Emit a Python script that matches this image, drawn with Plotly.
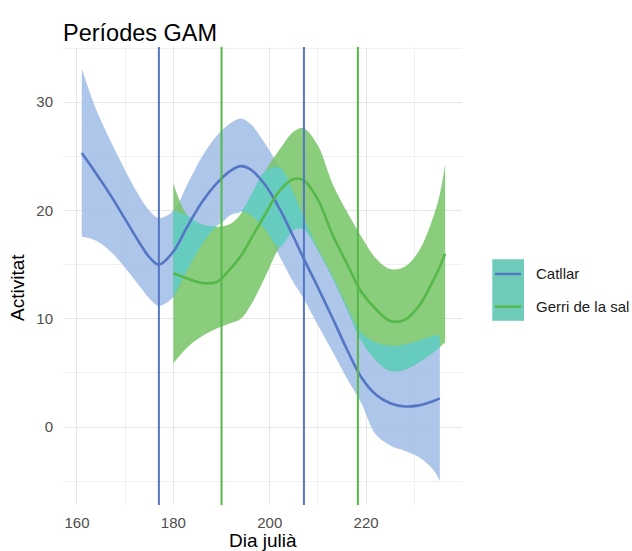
import numpy as np
import plotly.graph_objects as go

# ---------------- data ----------------
series_names = ["Catllar", "Gerri de la sal"]

days_cat = [161, 164, 167, 170, 173, 175, 177, 180, 183, 186, 189, 192, 194, 196, 199,
            202, 205, 207, 210, 213, 216, 219, 222, 225, 228, 231, 234, 235.3]
fit_cat = [25.3, 23.4, 21.4, 19.2, 17.0, 15.7, 15.0, 16.2, 18.6, 20.8, 22.5, 23.7, 24.1, 23.8, 22.4,
           20.2, 17.5, 15.6, 12.9, 10.1, 7.2, 4.6, 3.0, 2.2, 1.9, 2.0, 2.4, 2.65]
upper_cat = [33.1, 29.3, 26.4, 23.7, 21.3, 20.0, 19.3, 20.0, 22.5, 25.0, 26.9, 28.1, 28.5, 28.0, 26.2,
             24.0, 21.6, 19.4, 16.5, 14.0, 11.2, 8.7, 7.8, 7.5, 7.6, 8.0, 8.4, 8.5]
lower_cat = [17.6, 17.2, 16.2, 14.7, 13.0, 11.9, 11.2, 12.0, 14.6, 16.9, 18.6, 19.6, 19.9, 19.6, 18.3,
             15.8, 13.3, 11.9, 9.4, 7.0, 4.5, 2.2, -0.7, -1.7, -2.2, -2.8, -4.0, -5.0]

days_ger = [180, 183, 186, 189, 192, 194, 196, 199, 202, 205, 207, 210, 213, 216, 219,
            222, 225, 228, 231, 234, 235.3, 236.4]
fit_ger = [14.2, 13.7, 13.3, 13.4, 14.7, 15.8, 17.3, 19.6, 21.8, 22.9, 22.8, 21.0, 17.8, 15.1, 12.5,
           10.9, 9.8, 9.9, 11.2, 13.6, 14.8, 16.0]
upper_ger = [22.5, 19.5, 18.7, 18.5, 18.8, 19.7, 21.3, 23.6, 25.6, 27.3, 27.6, 26.0, 22.5, 19.9, 17.6,
             15.6, 14.6, 14.8, 16.3, 19.5, 21.5, 24.3]
lower_ger = [5.9, 7.4, 8.4, 9.1, 9.6, 10.0, 11.2, 13.8, 16.6, 18.2, 18.3, 16.3, 13.8, 10.9, 8.0,
             6.2, 5.2, 5.3, 6.0, 6.9, 7.4, 7.8]

# period limits (vertical lines)
vlines_cat = [177, 207.1]
vlines_ger = [190, 218.3]

x_ticks = [160, 180, 200, 220]
y_ticks = [0, 10, 20, 30]

# ---------------- styles ----------------
BLUE_LINE = "#5576c4"
GREEN_LINE = "#56b849"
BLUE_FILL = "rgba(160,189,231,0.86)"
GREEN_FILL = "rgba(118,197,104,0.86)"
TEAL_FILL = "rgba(98,205,200,0.88)"
FONT = "Liberation Sans, Arial, sans-serif"

W, H = 632, 551

# overlap of the two bands on shared days
cat_idx = {d: i for i, d in enumerate(days_cat)}
ov_x, ov_lo, ov_hi = [], [], []
for j, d in enumerate(days_ger):
    if d in cat_idx:
        i = cat_idx[d]
        lo = max(lower_cat[i], lower_ger[j])
        hi = min(upper_cat[i], upper_ger[j])
        ov_x.append(d)
        ov_lo.append(lo)
        ov_hi.append(max(lo, hi))

fig = go.Figure()

def band(x, lo, hi, color):
    fig.add_trace(go.Scatter(x=x, y=lo, mode="lines", line=dict(width=0, shape="spline"),
                             hoverinfo="skip", showlegend=False))
    fig.add_trace(go.Scatter(x=x, y=hi, mode="lines", line=dict(width=0, shape="spline"),
                             fill="tonexty", fillcolor=color, hoverinfo="skip", showlegend=False))

band(days_cat, lower_cat, upper_cat, BLUE_FILL)
band(days_ger, lower_ger, upper_ger, GREEN_FILL)
band(ov_x, ov_lo, ov_hi, TEAL_FILL)

fig.add_trace(go.Scatter(x=days_cat, y=fit_cat, mode="lines", name=series_names[0],
                         line=dict(color=BLUE_LINE, width=2.6, shape="spline"), showlegend=False))
fig.add_trace(go.Scatter(x=days_ger, y=fit_ger, mode="lines", name=series_names[1],
                         line=dict(color=GREEN_LINE, width=2.6, shape="spline"), showlegend=False))

shapes = []
for v in vlines_cat:
    shapes.append(dict(type="line", xref="x", yref="paper", x0=v, x1=v, y0=0, y1=1,
                       line=dict(color=BLUE_LINE, width=2)))
for v in vlines_ger:
    shapes.append(dict(type="line", xref="x", yref="paper", x0=v, x1=v, y0=0, y1=1,
                       line=dict(color=GREEN_LINE, width=2)))

# manual legend (teal key box with the two line keys)
shapes.append(dict(type="rect", xref="paper", yref="paper", x0=1.0759, x1=1.1554,
                   y0=0.4024, y1=0.5365, fillcolor="#6ecbb9", line=dict(width=0), layer="above"))
leg_y = [0.5044, 0.433]
leg_col = [BLUE_LINE, GREEN_LINE]
annotations = []
for name, yy, c in zip(series_names, leg_y, leg_col):
    shapes.append(dict(type="line", xref="paper", yref="paper", x0=1.0827, x1=1.1479,
                       y0=yy, y1=yy, line=dict(color=c, width=2.4)))
    annotations.append(dict(text=name, xref="paper", yref="paper", x=1.1805, y=yy,
                            xanchor="left", yanchor="middle", showarrow=False,
                            font=dict(family=FONT, size=15, color="#1a1a1a")))

annotations.append(dict(text="Activitat", xref="paper", yref="paper", x=-0.1128, y=0.476,
                        textangle=-90, showarrow=False, xanchor="center", yanchor="middle",
                        font=dict(family=FONT, size=19, color="black")))
annotations.append(dict(text="Dia julià", xref="paper", yref="paper", x=0.501, y=-0.0786,
                        showarrow=False, xanchor="center", yanchor="middle",
                        font=dict(family=FONT, size=19, color="black")))

fig.update_layout(
    width=W, height=H,
    margin=dict(l=63, r=170, t=47, b=46),
    paper_bgcolor="white", plot_bgcolor="white",
    title=dict(text="Períodes GAM", x=0, xref="paper", xanchor="left",
               y=1 - 33 / H, yref="container", yanchor="middle",
               font=dict(family=FONT, size=23.5, color="black")),
    shapes=shapes, annotations=annotations,
    showlegend=False,
)
fig.update_xaxes(range=[157.1, 239.9], tickvals=x_ticks, ticktext=[str(t) for t in x_ticks],
                 showgrid=True, gridcolor="#e6e6e6", gridwidth=1.2, zeroline=False,
                 showline=False, ticks="", ticklabelstandoff=7,
                 tickfont=dict(family=FONT, size=15, color="#4d4d4d"),
                 minor=dict(dtick=10, tick0=150, showgrid=True, gridcolor="#f0f0f0", gridwidth=0.8))
fig.update_yaxes(range=[-7.2, 35.1], tickvals=y_ticks, ticktext=[str(t) for t in y_ticks],
                 showgrid=True, gridcolor="#e6e6e6", gridwidth=1.2, zeroline=False,
                 showline=False, ticks="", ticklabelstandoff=9,
                 tickfont=dict(family=FONT, size=15, color="#4d4d4d"),
                 minor=dict(dtick=5, tick0=-5, showgrid=True, gridcolor="#f0f0f0", gridwidth=0.8))

# remove the browser's default 8px body margin so the figure fills the window exactly
fig.write_html("out.html", config={"displayModeBar": False},
               post_script="document.body.style.margin='0';document.body.style.overflow='hidden';")
